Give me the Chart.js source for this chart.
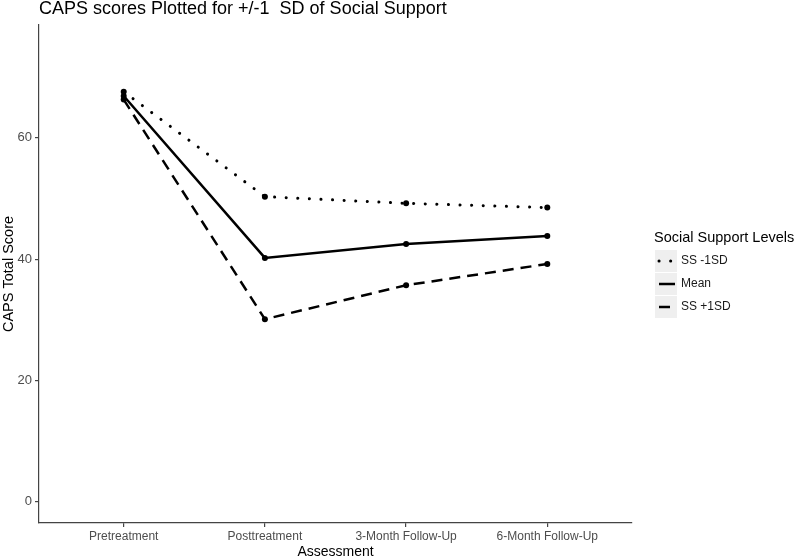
<!DOCTYPE html>
<html>
<head>
<meta charset="utf-8">
<script src="https://cdn.jsdelivr.net/npm/chart.js"></script>
<style>
  html, body { margin: 0; padding: 0; background: #fff; }
  #wrap { width: 800px; height: 559px; position: relative; }
</style>
</head>
<body>
<div id="wrap"><canvas id="capsChart"></canvas></div>
<script>
// Datos
var assessments = ['Pretreatment', 'Posttreatment', '3-Month Follow-Up', '6-Month Follow-Up'];
var seriesNames = ['SS -1SD', 'Mean', 'SS +1SD'];
var ssMinus1 = [67.6, 50.3, 49.2, 48.5];
var ssMean = [66.9, 40.2, 42.5, 43.8];
var ssPlus1 = [66.3, 30.1, 35.7, 39.2];
var yTicks = [0, 20, 40, 60];

var chartTitle = 'CAPS scores Plotted for +/-1  SD of Social Support';
var legendTitle = 'Social Support Levels';

var FONT = '"Liberation Sans", Arial, Helvetica, sans-serif';
var dashes = [[0.1, 11.5], [], [11, 7]];
var caps = ['round', 'butt', 'butt'];

function toPoints(values) {
  return values.map(function(v, i) { return { x: i, y: v }; });
}

var seriesValues = [ssMinus1, ssMean, ssPlus1];
var datasets = seriesValues.map(function(vals, i) {
  return {
    label: seriesNames[i],
    data: toPoints(vals),
    borderColor: '#000',
    backgroundColor: '#000',
    borderWidth: i === 0 ? 3 : 2.5,
    borderDash: dashes[i],
    borderCapStyle: caps[i],
    pointRadius: 3,
    pointBorderWidth: 0,
    pointHoverRadius: 3,
    tension: 0,
    fill: false
  };
});

// Título y leyenda dibujados a mano (estilo ggplot)
var decorPlugin = {
  id: 'decor',
  afterDraw: function(chart) {
    var ctx = chart.ctx;
    ctx.save();
    ctx.fillStyle = '#000';
    ctx.font = '18px ' + FONT;
    ctx.textBaseline = 'middle';
    ctx.textAlign = 'left';
    ctx.fillText(chartTitle, chart.chartArea.left, 9);

    ctx.font = '14.5px ' + FONT;
    ctx.fillText(legendTitle, 654, 238);

    var boxX = 655, boxW = 22, rowY = [261, 284, 307];
    seriesNames.forEach(function(name, i) {
      var cy = rowY[i];
      ctx.fillStyle = '#efefef';
      ctx.fillRect(boxX, cy - 11, boxW, 22);
      ctx.strokeStyle = '#000';
      ctx.lineWidth = i === 0 ? 3 : 2.5;
      ctx.lineCap = caps[i];
      ctx.setLineDash(dashes[i]);
      ctx.beginPath();
      ctx.moveTo(boxX + 4, cy);
      ctx.lineTo(boxX + boxW - 2, cy);
      ctx.stroke();
      ctx.setLineDash([]);
      ctx.fillStyle = '#1a1a1a';
      ctx.font = '12px ' + FONT;
      ctx.fillText(name, 681, cy);
    });
    ctx.restore();
  }
};

new Chart(document.getElementById('capsChart').getContext('2d'), {
  type: 'line',
  data: { datasets: datasets },
  plugins: [decorPlugin],
  options: {
    responsive: true,
    maintainAspectRatio: false,
    animation: false,
    events: [],
    layout: { padding: { top: 25, right: 168, left: 0, bottom: 0 } },
    plugins: { legend: { display: false }, tooltip: { enabled: false }, title: { display: false } },
    scales: {
      x: {
        type: 'linear',
        min: -0.6,
        max: 3.6,
        afterBuildTicks: function(scale) {
          scale.ticks = assessments.map(function(a, i) { return { value: i }; });
        },
        afterFit: function(scale) { scale.height = 36; },
        ticks: {
          callback: function(v) { return assessments[v]; },
          color: '#4d4d4d',
          font: { family: FONT, size: 12 },
          padding: 2,
          maxRotation: 0,
          autoSkip: false
        },
        grid: { display: true, drawOnChartArea: false, drawTicks: true, tickLength: 4, color: '#444', lineWidth: 1.2 },
        border: { display: true, color: '#444', width: 1.2 },
        title: {
          display: true,
          text: 'Assessment',
          color: '#000',
          font: { family: FONT, size: 14, lineHeight: 1 },
          padding: { top: 0, bottom: 0 }
        }
      },
      y: {
        min: -3.5,
        max: 78.6,
        afterBuildTicks: function(scale) {
          scale.ticks = yTicks.map(function(v) { return { value: v }; });
        },
        afterFit: function(scale) { scale.width = 39; },
        ticks: {
          color: '#4d4d4d',
          font: { family: FONT, size: 13 },
          padding: 3
        },
        grid: { display: true, drawOnChartArea: false, drawTicks: true, tickLength: 4, color: '#444', lineWidth: 1.2 },
        border: { display: true, color: '#444', width: 1.2 },
        title: {
          display: true,
          text: 'CAPS Total Score',
          color: '#000',
          font: { family: FONT, size: 14.5, lineHeight: 1 },
          padding: { top: 2, bottom: 0 }
        }
      }
    }
  }
});
</script>
</body>
</html>
